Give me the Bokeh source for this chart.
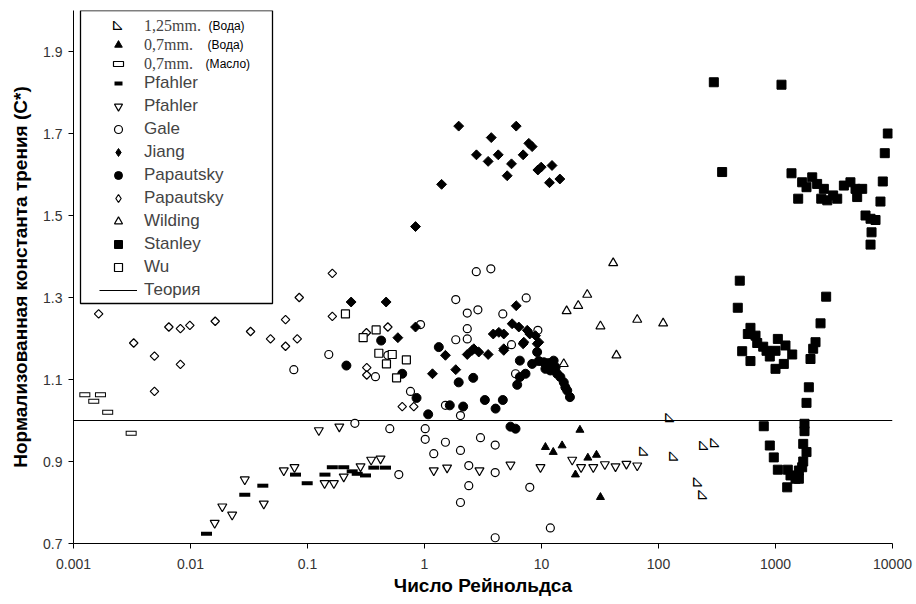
import numpy as np
from bokeh.plotting import figure
from bokeh.models import (FixedTicker, Legend, LegendItem, BoxAnnotation, Label,
                          ColumnDataSource, Range1d)
from bokeh.core.properties import value
from bokeh.embed import file_html
from bokeh.resources import INLINE

# ---------------- data ----------------
x_ticks = [0.001, 0.01, 0.1, 1, 10, 100, 1000, 10000]
x_tick_labels = ["0.001", "0.01", "0.1", "1", "10", "100", "1000", "10000"]
y_ticks = [0.7, 0.9, 1.1, 1.3, 1.5, 1.7, 1.9]
y_tick_labels = ["0.7", "0.9", "1.1", "1.3", "1.5", "1.7", "1.9"]

water125_x = [76, 127, 137, 221, 244, 249, 307]
water125_y = [0.925, 1.007, 0.913, 0.85, 0.819, 0.939, 0.946]

water07_x = [10.8, 12.6, 15.0, 19.5, 21.3, 24.9, 29.5, 31.9]
water07_y = [0.935, 0.923, 0.939, 0.868, 0.977, 0.909, 0.916, 0.813]

oil07_x = [0.00125, 0.00149, 0.0017, 0.00196, 0.00311]
oil07_y = [1.063, 1.047, 1.063, 1.020, 0.969]

pfahler_bar_x = [0.0137, 0.0291, 0.0415, 0.079, 0.0994, 0.141, 0.163, 0.204, 0.241,
                 0.266, 0.313, 0.369, 0.464]
pfahler_bar_y = [0.724, 0.819, 0.841, 0.868, 0.847, 0.868, 0.886, 0.886, 0.876,
                 0.870, 0.866, 0.885, 0.885]

pfahler_tri_x = [0.0161, 0.0187, 0.0227, 0.0291, 0.0423, 0.0627, 0.0774, 0.125, 0.14,
                 0.168, 0.187, 0.204, 0.284, 0.35, 0.421, 1.20, 1.56, 2.95, 5.43, 9.8,
                 18.3, 21.8, 27.7, 34.8, 42.9, 53.2, 65.8]
pfahler_tri_y = [0.75, 0.79, 0.77, 0.856, 0.797, 0.878, 0.886, 0.976, 0.847,
                 0.847, 0.985, 0.863, 0.888, 0.904, 0.907, 0.878, 0.885, 0.878, 0.892, 0.886,
                 0.904, 0.886, 0.886, 0.893, 0.888, 0.894, 0.89]

gale_x = [0.0764, 0.152, 0.254, 0.381, 0.486, 0.505, 0.603, 0.759, 0.925, 1.014, 1.014,
          1.20, 1.51, 1.51, 1.85, 1.85, 2.03, 2.03, 2.03, 2.32, 2.32, 2.32, 2.39, 2.39,
          2.77, 2.86, 3.01, 3.69, 4.02, 4.02, 4.02, 4.67, 5.54, 6.0, 7.4, 7.94, 9.31, 11.9]
gale_y = [1.124, 1.161, 0.993, 1.107, 1.159, 0.98, 0.868, 1.071, 1.234, 0.98, 0.954,
          0.919, 1.037, 0.947, 1.295, 1.197, 1.012, 0.927, 0.80, 1.262, 1.224, 1.199, 0.89, 0.841,
          1.363, 1.27, 0.958, 1.37, 0.94, 0.873, 0.714, 1.26, 1.185, 1.114, 1.299, 0.837, 1.22, 0.738]

jiang_x = [1.96, 6.08, 3.72, 7.79, 8.32, 2.78, 4.27, 3.50, 6.97, 5.54, 5.09, 9.94, 9.31,
           12.3, 11.7, 14.35, 1.40, 0.838, 0.236, 0.47, 0.838, 0.592, 6.08, 3.87, 4.32,
           4.76, 5.61, 6.4, 7.55, 7.94, 8.89, 7.06, 9.48, 2.64, 4.76, 6.97, 1.51, 2.32,
           2.55, 2.91, 3.50, 4.76, 1.17, 1.85, 9.2]
jiang_y = [1.718, 1.718, 1.690, 1.676, 1.668, 1.648, 1.648, 1.632, 1.648, 1.626, 1.597, 1.618, 1.611,
           1.622, 1.580, 1.589, 1.576, 1.473, 1.289, 1.289, 1.228, 1.202, 1.280, 1.211, 1.215,
           1.211, 1.236, 1.228, 1.22, 1.211, 1.207, 1.191, 1.191, 1.175, 1.175, 1.187, 1.159, 1.161,
           1.171, 1.167, 1.161, 1.171, 1.114, 1.124, 1.187]

papf_x = [0.215, 0.426, 0.645, 0.855, 1.075, 1.325, 1.645, 1.96, 2.14, 2.61, 3.28, 4.05, 4.67,
          5.43, 6.0, 6.53, 6.2, 6.53, 7.3, 8.32, 9.18, 9.48, 10.47, 10.8, 11.5, 11.9, 12.7,
          13.2, 13.6, 14.5, 15.5, 16.0, 16.6, 17.5]
papf_y = [1.134, 1.195, 1.114, 1.055, 1.015, 1.179, 1.037, 1.093, 1.034, 1.104, 1.050, 1.029, 1.050,
          0.985, 0.98, 1.146, 1.087, 1.106, 1.114, 1.138, 1.167, 1.145, 1.142, 1.126, 1.140, 1.122, 1.146,
          1.130, 1.114, 1.106, 1.093, 1.081, 1.073, 1.057]

papo_x = [0.00164, 0.00327, 0.00492, 0.00492, 0.00653, 0.0082, 0.0082, 0.00987, 0.01626,
          0.0326, 0.0483, 0.0649, 0.0649, 0.0817, 0.085, 0.163, 0.163, 0.319, 0.321, 0.321,
          0.486, 0.645, 0.81]
papo_y = [1.260, 1.189, 1.157, 1.071, 1.228, 1.224, 1.137, 1.232, 1.242,
          1.217, 1.199, 1.246, 1.181, 1.199, 1.30, 1.254, 1.359, 1.214, 1.129, 1.111,
          1.228, 1.034, 1.034]

wilding_x = [15.5, 16.4, 20.6, 24.6, 31.9, 41.0, 43.7, 65.8, 109.6]
wilding_y = [1.138, 1.267, 1.28, 1.307, 1.23, 1.384, 1.159, 1.246, 1.237]

stanley_x = [297, 1125, 350, 9120, 8590, 8260, 7890, 1370, 1563, 1690, 1841, 2060, 2270, 2590,
             2460, 2770, 3110, 3370, 3840, 4370, 4830, 5510, 4990, 5880, 6490, 7160, 6620, 6490,
             495, 2710, 476, 2426, 611, 580, 675, 698, 785, 838, 894, 519, 611, 1047, 1000, 1217,
             1390, 1178, 1000, 2198, 2100, 1991, 1927, 1841, 1770, 1770, 794, 894, 967, 1047,
             1274, 1343, 1483, 1584, 1690, 1726, 1841, 1726, 1259, 1584]
stanley_y = [1.825, 1.819, 1.606, 1.70, 1.652, 1.583, 1.534, 1.603, 1.541, 1.581, 1.569, 1.593, 1.577, 1.565,
             1.541, 1.537, 1.549, 1.541, 1.573, 1.581, 1.565, 1.565, 1.545, 1.50, 1.492, 1.489, 1.459, 1.429,
             1.341, 1.302, 1.275, 1.237, 1.226, 1.211, 1.207, 1.189, 1.18, 1.17, 1.156, 1.169, 1.145, 1.199, 1.17, 1.183,
             1.161, 1.138, 1.126, 1.191, 1.175, 1.15, 1.081, 1.043, 0.992, 0.974, 0.986, 0.939, 0.91, 0.88,
             0.88, 0.866, 0.858, 0.878, 0.886, 0.943, 0.923, 0.90, 0.837, 0.858]

wu_x = [0.211, 0.299, 0.386, 0.407, 0.53, 0.473, 0.70, 0.577]
wu_y = [1.26, 1.202, 1.221, 1.164, 1.161, 1.138, 1.148, 1.104]

theory_x = [0.001, 10000]
theory_y = [1.0, 1.0]

RT = "\u22BF"          # right-triangle character, turned a quarter clockwise below
RT_ANGLE = -np.pi / 2

# ---------------- figure ----------------
p = figure(width=916, height=604, x_axis_type="log",
           x_range=Range1d(0.001, 10000), y_range=Range1d(0.7, 2.0),
           output_backend="svg", toolbar_location=None,
           min_border_left=73, min_border_right=24, min_border_top=10, min_border_bottom=61)
p.outline_line_color = None
p.xgrid.visible = False
p.ygrid.visible = False
p.background_fill_color = "white"
p.border_fill_color = "white"

for ax in (p.xaxis[0], p.yaxis[0]):
    ax.axis_line_color = "black"
    ax.axis_line_width = 1
    ax.major_tick_line_color = "black"
    ax.major_tick_in = 0
    ax.major_tick_out = 5
    ax.minor_tick_line_color = None
    ax.major_label_text_font = "Liberation Sans"
    ax.major_label_text_font_size = "14px"
    ax.major_label_text_color = "#333333"
    ax.axis_label_text_font = "Liberation Sans"
    ax.axis_label_text_font_style = "bold"
    ax.axis_label_text_font_size = "19px"
    ax.axis_label_text_color = "black"

p.xaxis.ticker = FixedTicker(ticks=x_ticks)
p.xaxis.major_label_overrides = {t: l for t, l in zip(x_ticks, x_tick_labels)}
p.yaxis.ticker = FixedTicker(ticks=y_ticks)
p.yaxis.major_label_overrides = {t: l for t, l in zip(y_ticks, y_tick_labels)}
p.xaxis.major_label_standoff = 10
p.yaxis.major_label_standoff = 6
p.xaxis.axis_label_standoff = 3
p.yaxis.axis_label_standoff = 9
p.xaxis.axis_label = "Число Рейнольдса"
p.yaxis.axis_label = "Нормализованная константа трения (C*)"

LW = 1.2
r_theory = p.line(theory_x, theory_y, line_color="black", line_width=1.2)

src125 = ColumnDataSource(dict(x=water125_x, y=water125_y, t=[RT] * len(water125_x)))
r_125 = p.text(x="x", y="y", text="t", source=src125, angle=RT_ANGLE,
               text_font=value("DejaVu Sans"), text_font_size="16px",
               text_align="center", text_baseline="middle", text_color="black")
r_07 = p.scatter(water07_x, water07_y, marker="triangle", size=8, fill_color="black",
                 line_color="black")
r_oil_a = p.scatter(oil07_x, oil07_y, marker="dash", size=11, line_width=5, line_color="black")
r_oil_b = p.scatter(oil07_x, oil07_y, marker="dash", size=9, line_width=3, line_color="white")
r_pbar = p.scatter(pfahler_bar_x, pfahler_bar_y, marker="dash", size=11, line_width=4,
                   line_color="black")
r_ptri = p.scatter(pfahler_tri_x, pfahler_tri_y, marker="inverted_triangle", size=9,
                   fill_color="white", line_color="black", line_width=LW)
r_gale = p.scatter(gale_x, gale_y, marker="circle", size=8, fill_color="white",
                   line_color="black", line_width=LW)
r_jiang = p.scatter(jiang_x, jiang_y, marker="square", angle=np.pi / 4, size=7,
                    fill_color="black", line_color="black")
r_papf = p.scatter(papf_x, papf_y, marker="circle", size=9, fill_color="black",
                   line_color="black")
r_papo = p.scatter(papo_x, papo_y, marker="square", angle=np.pi / 4, size=6,
                   fill_color="white", line_color="black", line_width=LW)
r_wild = p.scatter(wilding_x, wilding_y, marker="triangle", size=9, fill_color="white",
                   line_color="black", line_width=LW)
r_stan = p.scatter(stanley_x, stanley_y, marker="square", size=9, fill_color="black",
                   line_color="black")
r_wu = p.scatter(wu_x, wu_y, marker="square", size=8, fill_color="white",
                 line_color="black", line_width=LW)

# legend-only glyph samples (a single NaN point, never drawn in the plot):
# the legend ignores marker angle, so diamonds are used for the samples
lg_jiang = p.scatter(x=[np.nan], y=[np.nan], marker="diamond", size=10, fill_color="black",
                     line_color="black")
lg_papo = p.scatter(x=[np.nan], y=[np.nan], marker="diamond", size=10, fill_color="white",
                    line_color="black", line_width=LW)

# ---------------- legend ----------------
box = BoxAnnotation(left=80, right=272, top=10, bottom=303,
                    left_units="canvas", right_units="canvas",
                    top_units="canvas", bottom_units="canvas",
                    fill_color="white", fill_alpha=1.0, line_color="black", line_width=1.3,
                    line_alpha=1.0)
p.add_layout(box)

legA = Legend(items=[LegendItem(label="1,25mm.", renderers=[r_125]),
                     LegendItem(label="0,7mm.", renderers=[r_07]),
                     LegendItem(label="0,7mm.", renderers=[r_oil_b])],
              location=(26, 470), padding=0, margin=0, spacing=0,
              glyph_width=38, glyph_height=19, label_height=19, label_standoff=7,
              label_text_font="Liberation Serif", label_text_font_size="16px",
              border_line_color=None, background_fill_alpha=0)
legB = Legend(items=[LegendItem(label="Pfahler", renderers=[r_pbar]),
                     LegendItem(label="Pfahler", renderers=[r_ptri]),
                     LegendItem(label="Gale", renderers=[r_gale]),
                     LegendItem(label="Jiang", renderers=[lg_jiang]),
                     LegendItem(label="Papautsky", renderers=[r_papf]),
                     LegendItem(label="Papautsky", renderers=[lg_papo]),
                     LegendItem(label="Wilding", renderers=[r_wild]),
                     LegendItem(label="Stanley", renderers=[r_stan]),
                     LegendItem(label="Wu", renderers=[r_wu]),
                     LegendItem(label="Теория", renderers=[r_theory])],
              location=(26, 243), padding=0, margin=0, spacing=3,
              glyph_width=38, glyph_height=20, label_height=20, label_standoff=7,
              label_text_font="Liberation Sans", label_text_font_size="17px",
              border_line_color=None, background_fill_alpha=0)
p.add_layout(legA)
p.add_layout(legB)

# outlined bar icon for the oil entry
p.add_layout(BoxAnnotation(left=113, right=123, top=61, bottom=66,
                           left_units="canvas", right_units="canvas",
                           top_units="canvas", bottom_units="canvas",
                           fill_color="white", fill_alpha=1.0, line_color="black",
                           line_width=1.2, line_alpha=1.0))

for txt, lx, ly in [("(Вода)", 208, 25), ("(Вода)", 207, 44), ("(Масло)", 205, 63)]:
    p.add_layout(Label(x=lx, y=ly, x_units="canvas", y_units="canvas", text=txt,
                       text_font="Liberation Sans", text_font_size="12px",
                       text_align="left", text_baseline="middle", text_color="black"))
p.add_layout(Label(x=118, y=25, x_units="canvas", y_units="canvas", text=RT, angle=RT_ANGLE,
                   text_font="DejaVu Sans", text_font_size="16px",
                   text_align="center", text_baseline="middle", text_color="black"))

open("out.html", "w").write(file_html(p, INLINE))
